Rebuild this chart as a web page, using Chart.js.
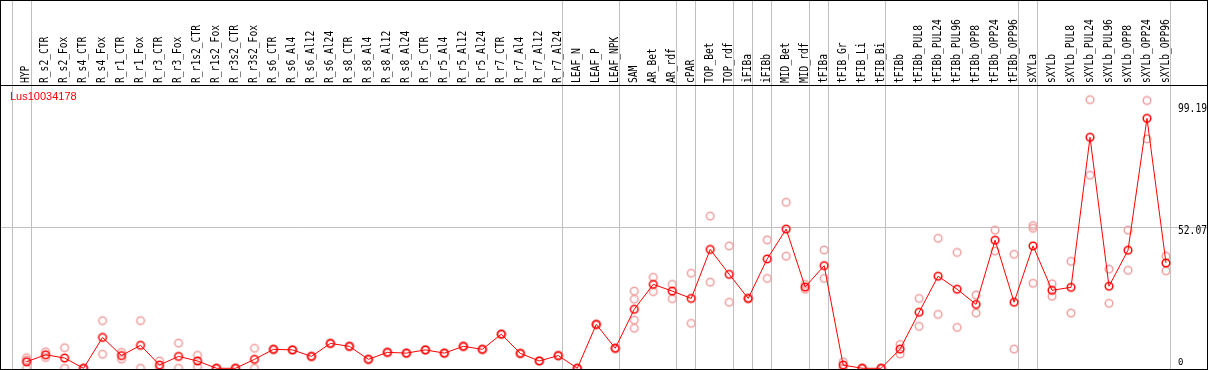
<!DOCTYPE html>
<html>
<head>
<meta charset="utf-8">
<script src="https://cdn.jsdelivr.net/npm/chart.js@4.4.1/dist/chart.umd.min.js"></script>
<style>
  html, body { margin: 0; padding: 0; background: #fff; }
  canvas { display: block; }
</style>
</head>
<body>
<canvas id="grafico" width="1209" height="370"></canvas>
<script>
// =========================================================
// DATOS
// =========================================================
const TITULO = 'Lus10034178';

const etiquetas = [
    'HYP', 'R_s2_CTR', 'R_s2_Fox', 'R_s4_CTR', 'R_s4_Fox', 'R_r1_CTR', 'R_r1_Fox', 'R_r3_CTR', 'R_r3_Fox',
    'R_r1s2_CTR', 'R_r1s2_Fox', 'R_r3s2_CTR', 'R_r3s2_Fox', 'R_s6_CTR', 'R_s6_Al4', 'R_s6_Al12', 'R_s6_Al24',
    'R_s8_CTR', 'R_s8_Al4', 'R_s8_Al12', 'R_s8_Al24', 'R_r5_CTR', 'R_r5_Al4', 'R_r5_Al12', 'R_r5_Al24',
    'R_r7_CTR', 'R_r7_Al4', 'R_r7_Al12', 'R_r7_Al24', 'LEAF_N', 'LEAF_P', 'LEAF_NPK', 'SAM', 'AR_Bet', 'AR_rdf',
    'cPAR', 'TOP_Bet', 'TOP_rdf', 'iFIBa', 'iFIBb', 'MID_Bet', 'MID_rdf', 'tFIBa', 'tFIB_Gr', 'tFIB_Li', 'tFIB_Bi',
    'tFIBb', 'tFIBb_PUL8', 'tFIBb_PUL24', 'tFIBb_PUL96', 'tFIBb_OPP8', 'tFIBb_OPP24', 'tFIBb_OPP96',
    'sXYLa', 'sXYLb', 'sXYLb_PUL8', 'sXYLb_PUL24', 'sXYLb_PUL96', 'sXYLb_OPP8', 'sXYLb_OPP24', 'sXYLb_OPP96'
];

// media por muestra (linea roja)
const medias = [
    2.4, 5.0, 3.8, 0, 11.4, 4.7, 8.5, 1.2, 4.4, 2.7, 0, 0, 3.3, 7.0, 6.8, 4.4, 9.2,
    8.1, 3.3, 5.9, 5.6, 6.8, 5.6, 8.1, 7.0, 12.6, 5.5, 2.7, 4.7, 0, 16.2, 7.4, 21.8, 31.0, 28.5,
    25.8, 43.9, 34.7, 25.8, 40.4, 51.4, 30.0, 37.9, 1.2, 0, 0,
    7.1, 20.7, 34.0, 29.2, 23.6, 47.3, 24.4,
    45.2, 28.8, 29.9, 85.3, 30.3, 43.6, 92.3, 38.9
];

// replicas (circulos rosados)
const replicaA = [
    3.9, 6.1, 7.6, 0, 17.6, 5.9, 17.6, 2.7, 9.3, 4.8, 0, 0, 7.4, 7.0, 6.8, 4.4, 9.2,
    8.1, 3.3, 5.9, 5.6, 6.8, 5.6, 8.1, 7.0, 12.6, 5.5, 2.7, 4.7, 0, 16.2, 7.4, 28.5, 33.6, 31.0,
    35.1, 56.2, 45.2, 25.8, 47.4, 61.3, 31.0, 43.7, 2.4, 0, 0,
    8.8, 25.8, 48.0, 42.8, 27.1, 51.0, 42.1,
    52.7, 31.2, 39.5, 99.19, 36.6, 51.0, 98.9, 41.4
];
const replicaB = [
    3.0, 4.0, 0, 0, 5.2, 3.4, 0, 0, 0, 0.6, 0, 0, 0, 7.0, 6.8, 4.4, 9.2,
    8.1, 3.3, 5.9, 5.6, 6.8, 5.6, 8.1, 7.0, 12.6, 5.5, 2.7, 4.7, 0, 16.2, 7.4, 25.5, 28.3, 25.7,
    16.6, 31.8, 24.4, 25.8, 33.2, 41.4, 29.2, 33.2, 0, 0, 0,
    5.3, 15.5, 19.9, 15.1, 20.4, 43.3, 7.1,
    51.7, 26.6, 20.4, 71.3, 24.0, 36.2, 84.7, 36.0
];
const replicaC = [
    0, null, null, null, null, null, null, null, null, null, null, null, null, null, null, null, null,
    null, null, null, null, null, null, null, null, null, null, null, null, null, null, null, 17.8, null, null,
    null, null, null, null, null, null, null, null, null, null, null,
    null, null, null, null, null, null, null,
    31.4, null, null, null, null, null, null, null
];
const replicaD = [
    null, null, null, null, null, null, null, null, null, null, null, null, null, null, null, null, null,
    null, null, null, null, null, null, null, null, null, null, null, null, null, null, null, 14.8, null, null,
    null, null, null, null, null, null, null, null, null, null, null,
    null, null, null, null, null, null, null,
    null, null, null, null, null, null, null, null
];

// separadores de grupo (despues de la columna indicada)
const separadores = [-1, 0, 28, 31, 34, 35, 37, 38, 39, 41, 42, 45, 52, 53, 60];
const marcasY = [99.19, 52.07, 0];

// =========================================================
// MARCADORES
// =========================================================
function crearMarcador(color) {
    const c = document.createElement('canvas');
    c.width = 12; c.height = 12;
    const g = c.getContext('2d');
    g.strokeStyle = color;
    g.lineWidth = 1.5;
    g.beginPath(); g.arc(6, 6, 3.8, 0, Math.PI * 2); g.stroke();
    return c;
}
const marcaRoja = crearMarcador('#ff0000');
const marcaRosa = crearMarcador('#f0a0a0');

const puntos = arr => arr.map((v, i) => v === null ? null : { x: i, y: v }).filter(p => p);

function datasetReplica(arr) {
    return {
        data: puntos(arr), showLine: false, pointStyle: marcaRosa,
        pointRadius: 4, pointHoverRadius: 4, order: 2, clip: false
    };
}

// =========================================================
// DECORADO (marco, separadores, textos)
// =========================================================
const FUENTE_MONO = '12px "DejaVu Sans Mono", monospace';
const ANCHO_CAR = 5.8;

const marco = {
    id: 'marco',
    beforeDatasetsDraw(chart) {
        const { ctx, scales: { x, y } } = chart;
        const W = chart.width;
        ctx.save();
        ctx.strokeStyle = '#c0c0c0';
        ctx.lineWidth = 1;
        separadores.forEach(k => {
            const px = Math.round(x.getPixelForValue(k) + 4) + 0.5;
            ctx.beginPath(); ctx.moveTo(px, 0); ctx.lineTo(px, 369); ctx.stroke();
        });
        const gy = Math.round(y.getPixelForValue(52.07)) + 0.5;
        ctx.beginPath(); ctx.moveTo(0, gy); ctx.lineTo(W - 2, gy); ctx.stroke();
        ctx.restore();
    },
    afterDraw(chart) {
        const { ctx, scales: { x, y } } = chart;
        const W = chart.width;
        ctx.save();

        // lineas negras
        ctx.strokeStyle = '#000';
        ctx.lineWidth = 1;
        ctx.beginPath();
        ctx.moveTo(0, 0.5); ctx.lineTo(W - 1, 0.5);
        ctx.moveTo(0, 85.5); ctx.lineTo(W - 1, 85.5);
        ctx.moveTo(0, 369.5); ctx.lineTo(W - 1, 369.5);
        ctx.moveTo(0.5, 0); ctx.lineTo(0.5, 370);
        ctx.moveTo(W - 1.5, 0); ctx.lineTo(W - 1.5, 370);
        ctx.stroke();

        // etiquetas de columna (giradas)
        ctx.fillStyle = '#000';
        ctx.font = FUENTE_MONO;
        ctx.textAlign = 'left';
        ctx.textBaseline = 'alphabetic';
        etiquetas.forEach((lab, i) => {
            const px = x.getPixelForValue(i) + 2.7;
            ctx.save();
            ctx.translate(px, 83);
            ctx.rotate(-Math.PI / 2);
            ctx.fillText(lab, 0, 0, lab.length * ANCHO_CAR);
            ctx.restore();
        });

        // etiquetas eje Y
        const desplaz = { 99.19: 12.3, 52.07: 7, 0: -3 };
        marcasY.forEach(v => {
            const t = String(v);
            ctx.font = v === 0 ? '9px "DejaVu Sans Mono", monospace' : FUENTE_MONO;
            ctx.fillText(t, 1178, y.getPixelForValue(v) + desplaz[v], t.length * ANCHO_CAR);
        });

        // titulo
        ctx.fillStyle = '#ff0000';
        ctx.font = '11px "Liberation Sans", Arial, sans-serif';
        ctx.textBaseline = 'middle';
        ctx.fillText(TITULO, 10, 97);
        ctx.restore();
    }
};

// =========================================================
// GRAFICO
// =========================================================
new Chart(document.getElementById('grafico'), {
    type: 'line',
    data: {
        datasets: [
            {
                data: puntos(medias), borderColor: '#ff0000', borderWidth: 1,
                pointStyle: marcaRoja, pointRadius: 4, pointHoverRadius: 4,
                tension: 0, order: 1, clip: false
            },
            datasetReplica(replicaA),
            datasetReplica(replicaB),
            datasetReplica(replicaC),
            datasetReplica(replicaD)
        ]
    },
    options: {
        responsive: false,
        animation: false,
        layout: { autoPadding: false, padding: { left: 2, right: 2, top: 86, bottom: 1 } },
        plugins: { legend: { display: false }, tooltip: { enabled: false } },
        scales: {
            x: { type: 'linear', min: -1.295, max: 62.16, display: false },
            y: { min: -0.26, max: 104.24, display: false }
        }
    },
    plugins: [marco]
});
</script>
</body>
</html>
